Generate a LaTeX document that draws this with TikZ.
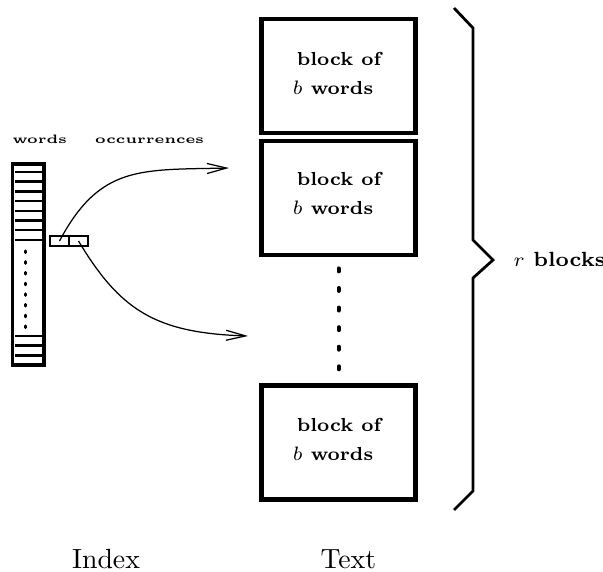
\documentclass[tikz,border=0pt]{standalone}
\usetikzlibrary{arrows.meta}
\begin{document}
\begin{tikzpicture}[x=0.36pt,y=-0.36pt,
  blk/.style={draw,line width=1.6pt,minimum width=154*0.36pt,minimum height=114*0.36pt,inner sep=0pt},
  blktxt/.style={anchor=base,inner sep=0pt,font=\fontsize{6.8}{8}\selectfont\bfseries},
  lbl/.style={anchor=base,inner sep=0pt,font=\fontsize{10}{12}\selectfont},
  hdr/.style={anchor=base,inner sep=0pt,font=\fontsize{4.4}{5}\selectfont\bfseries},
  idxbox/.style={draw,line width=1.1pt,minimum width=31.5*0.36pt,minimum height=201*0.36pt,inner sep=0pt},
  cell/.style={draw,line width=0.5pt,minimum width=19*0.36pt,minimum height=10*0.36pt,inner sep=0pt},
  entry/.style={line width=0.9pt},
  conn/.style={line width=0.45pt,-{Straight Barb[length=7pt,width=3.6pt]}},
  brace/.style={line width=1pt,line join=miter}]
\useasboundingbox (0,0) rectangle (603,572);
% index
\node[idxbox] (idx) at (28.25,264.5) {};
\foreach \yy in {172,181.7,191.4,201.1,210.8,220.5,230.2,240,336,345.7,355.3}
  \draw[entry] (15,\yy) -- (41.5,\yy);
\draw[line width=1.1pt,line cap=round,dash pattern=on 0.6pt off 3.25pt] (25.7,251) -- (25.7,328);
\node[hdr] (hw) at (39.7,143.7) {\scalebox{1.15}[1]{words}};
\node[hdr] (ho) at (149.5,143.7) {\scalebox{1.15}[1]{occurrences}};
\node[cell] (ca) at (59.5,241) {};
\node[cell] (cb) at (78.5,241) {};
% text blocks
\node[blk] (b1) at (338.6,76) {};
\node[blk] (b2) at (338.6,198) {};
\node[blk] (b3) at (338.6,442.7) {};
\node[blktxt] (b1a) at (339,66) {block of};
\node[blktxt] (b1b) at (333,95) {$b$ words};
\node[blktxt] (b2a) at (339,186) {block of};
\node[blktxt] (b2b) at (333,215) {$b$ words};
\node[blktxt] (b3a) at (339,431.7) {block of};
\node[blktxt] (b3b) at (333,460) {$b$ words};
\draw[line width=1.5pt,line cap=round,dash pattern=on 1pt off 6.05pt] (338.6,268.5) -- (338.6,372);
% connectors
\coordinate (t1) at (229,168);
\coordinate (t2) at (248,336);
\draw[conn] (ca.center) .. controls (100,165) and (140,170) .. (t1);
\draw[conn] (cb.center) .. controls (120,310) and (155,333) .. (t2);
% brace
\draw[brace] (454,8) -- (473,28) -- (473,240) -- (493,260) -- (473,278) -- (473,491) -- (454,510);
\node[anchor=base west,inner sep=0pt,font=\fontsize{7.4}{9}\selectfont\bfseries] (rb) at (513,266.7) {$r$ blocks};
% labels
\node[lbl] (li) at (106,568) {Index};
\node[lbl] (lt) at (348.3,568) {Text};
\end{tikzpicture}
\end{document}
